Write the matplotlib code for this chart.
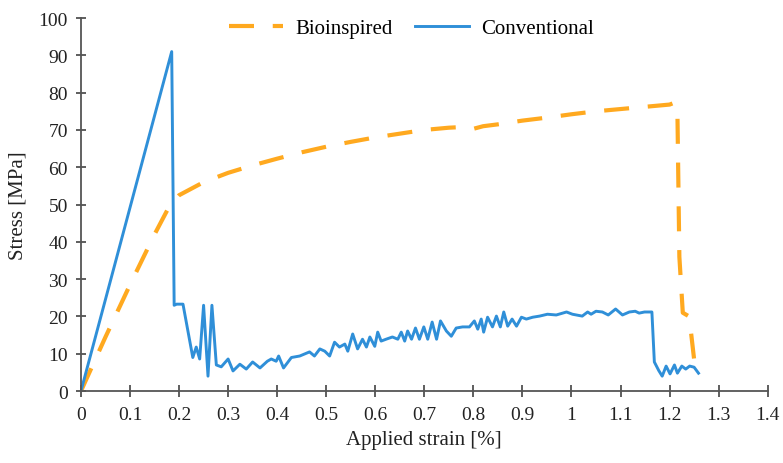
import matplotlib
matplotlib.use("Agg")
import matplotlib.pyplot as plt
from matplotlib.ticker import FuncFormatter

plt.rcParams['font.family'] = ['Liberation Serif', 'DejaVu Serif']

# Bioinspired curve (strain %, stress MPa)
bio_x = [0, 0.05, 0.1, 0.15, 0.18, 0.2, 0.25, 0.3, 0.35, 0.4, 0.45, 0.5, 0.55, 0.6,
         0.65, 0.7, 0.75, 0.78, 0.8, 0.82, 0.85, 0.9, 0.95, 1.0, 1.05, 1.1, 1.15,
         1.2, 1.21, 1.216, 1.22, 1.227, 1.24, 1.25, 1.255]
bio_y = [0, 14.5, 28.5, 42, 49.5, 52.5, 56, 58.5, 60.5, 62.3, 64, 65.5, 66.8, 68,
         69, 70, 70.6, 70.8, 70.3, 71, 71.5, 72.5, 73.3, 74.2, 75, 75.6, 76.2,
         76.8, 77.3, 75, 36, 21, 20, 8.6, 5]

# Conventional curve
conv_x = [0, 0.185, 0.19, 0.195, 0.208, 0.228, 0.235, 0.242, 0.25, 0.259, 0.267,
          0.276, 0.286, 0.30, 0.31, 0.324, 0.337, 0.35, 0.365, 0.38, 0.388, 0.398,
          0.403, 0.413, 0.429, 0.446, 0.466, 0.476, 0.487, 0.497, 0.507, 0.517,
          0.527, 0.538, 0.544, 0.554, 0.564, 0.574, 0.582, 0.589, 0.599, 0.605,
          0.612, 0.622, 0.635, 0.646, 0.653, 0.66, 0.666, 0.674, 0.682, 0.69,
          0.699, 0.707, 0.716, 0.725, 0.733, 0.745, 0.755, 0.765, 0.778, 0.792,
          0.802, 0.809, 0.816, 0.821, 0.829, 0.839, 0.847, 0.855, 0.862, 0.87,
          0.879, 0.888, 0.898, 0.908, 0.921, 0.935, 0.951, 0.969, 0.99, 1.002,
          1.022, 1.033, 1.04, 1.05, 1.063, 1.075, 1.09, 1.104, 1.118, 1.13,
          1.138, 1.149, 1.164, 1.169, 1.178, 1.185, 1.193, 1.201, 1.21, 1.216,
          1.225, 1.233, 1.241, 1.25, 1.259]
conv_y = [0, 91, 23, 23.3, 23.3, 9, 11.8, 8.6, 23, 4, 23,
          7, 6.5, 8.6, 5.4, 7.2, 5.9, 7.8, 6.2, 8, 8.6, 8,
          9.4, 6.2, 9, 9.4, 10.5, 9.4, 11.3, 10.7, 9.4, 13.1,
          11.8, 12.6, 10.7, 15.3, 11.3, 13.9, 11.8, 14.5, 12, 15.8,
          13.4, 13.9, 14.5, 13.9, 15.8, 13.4, 16.1, 13.9, 16.9, 13.9,
          17.2, 13.9, 18.5, 13.9, 18.8, 16.1, 14.7, 16.9, 17.2, 17.2,
          18.8, 16.6, 19.3, 15.8, 19.8, 17.2, 20.1, 17.2, 21.2, 17.4,
          19.3, 17.4, 19.8, 19.3, 19.8, 20.1, 20.6, 20.4, 21.2, 20.6,
          20.1, 21.2, 20.6, 21.4, 21.2, 20.4, 22, 20.4, 21.2, 21.4,
          20.9, 21.2, 21.2, 7.8, 5.5, 4, 6.7, 4.6, 7, 4.8,
          6.7, 5.9, 6.7, 6.4, 4.8]

x_ticks = [0, 0.1, 0.2, 0.3, 0.4, 0.5, 0.6, 0.7, 0.8, 0.9, 1.0, 1.1, 1.2, 1.3, 1.4]
y_ticks = [0, 10, 20, 30, 40, 50, 60, 70, 80, 90, 100]

fig = plt.figure(figsize=(7.83, 4.64), dpi=100)
ax = fig.add_axes([0.1034, 0.155, 0.877, 0.804])

ax.plot(bio_x, bio_y, color='#FFA91F', lw=3, dashes=(6, 4.5), label='Bioinspired')
ax.plot(conv_x, conv_y, color='#2F8FD8', lw=2.1, solid_joinstyle='round',
        label='Conventional')

ax.set_xlim(0, 1.4)
ax.set_ylim(0, 100)
ax.set_xticks(x_ticks)
ax.set_yticks(y_ticks)
ax.xaxis.set_major_formatter(FuncFormatter(lambda v, p: '%g' % round(v, 1)))
ax.tick_params(direction='inout', length=9, width=1.1, colors='#333333',
               labelsize=14, labelcolor='#222222', pad=6)
ax.tick_params(axis='y', length=7)
for s in ['top', 'right']:
    ax.spines[s].set_visible(False)
for s in ['left', 'bottom']:
    ax.spines[s].set_color('#555555')
    ax.spines[s].set_linewidth(1.3)

ax.set_xlabel('Applied strain [%]', fontsize=15, color='#222222', labelpad=5)
ax.set_ylabel('Stress [MPa]', fontsize=15, color='#222222', labelpad=8)

fig.legend(loc='center', bbox_to_anchor=(0.5256, 0.937), ncol=2, frameon=False,
           fontsize=15, handlelength=2.6, columnspacing=1.05, handletextpad=0.6)

fig.savefig('out.png', dpi=100)
